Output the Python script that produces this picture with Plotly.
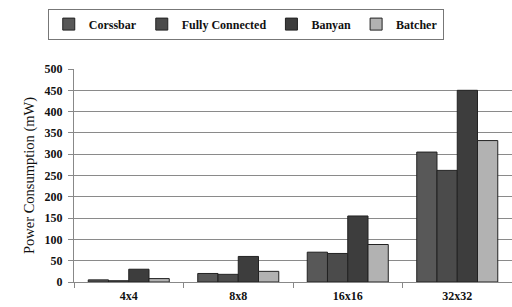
import plotly.graph_objects as go

categories = ["4x4", "8x8", "16x16", "32x32"]
series_names = ["Corssbar", "Fully Connected", "Banyan", "Batcher"]
corssbar = [5, 20, 70, 305]
fully_connected = [3, 18, 67, 262]
banyan = [30, 60, 155, 450]
batcher = [8, 25, 88, 332]
y_ticks = [0, 50, 100, 150, 200, 250, 300, 350, 400, 450, 500]

colors = ["#585858", "#4b4b4b", "#3d3d3d", "#b2b2b2"]
values = [corssbar, fully_connected, banyan, batcher]

fig = go.Figure()
for name, vals, c in zip(series_names, values, colors):
    fig.add_trace(go.Bar(
        name=name, x=categories, y=vals,
        marker=dict(color=c, line=dict(color="#222222", width=1)),
    ))

serif = "Liberation Serif, Times New Roman, serif"
fig.update_layout(
    width=512, height=307,
    margin=dict(l=74, r=0, t=69, b=25, autoexpand=False),
    paper_bgcolor="white", plot_bgcolor="white",
    barmode="group", bargap=0.26, bargroupgap=0,
    showlegend=True,
    legend=dict(
        orientation="h", xref="container", x=0.48, xanchor="center",
        yref="container", y=0.972, yanchor="top",
        font=dict(family=serif, size=12, color="#111111", weight="bold"),
        bordercolor="#777777", borderwidth=1, bgcolor="white",
        itemwidth=30, traceorder="normal", tracegroupgap=0,
    ),
    font=dict(family=serif, color="#111111"),
)
fig.update_xaxes(
    showline=True, linecolor="#888888", linewidth=1,
    ticks="outside", tickson="boundaries", ticklen=5, tickcolor="#888888",
    tickfont=dict(family=serif, size=12, color="#111111", weight="bold"),
    ticklabelstandoff=3,
    showgrid=False,
)
fig.update_yaxes(
    range=[0, 500], tickvals=y_ticks,
    showline=True, linecolor="#888888", linewidth=1,
    ticks="outside", ticklen=5, tickcolor="#888888",
    gridcolor="#8a8a8a", gridwidth=1,
    tickfont=dict(family=serif, size=12, color="#111111", weight="bold"),
    ticklabelstandoff=3,
    title=dict(text="Power Consumption (mW)", font=dict(family=serif, size=14.5, color="#111111"), standoff=6),
    zeroline=False,
)
fig.write_html("out.html", config={"displayModeBar": False},
               post_script="document.body.style.margin='0';")
